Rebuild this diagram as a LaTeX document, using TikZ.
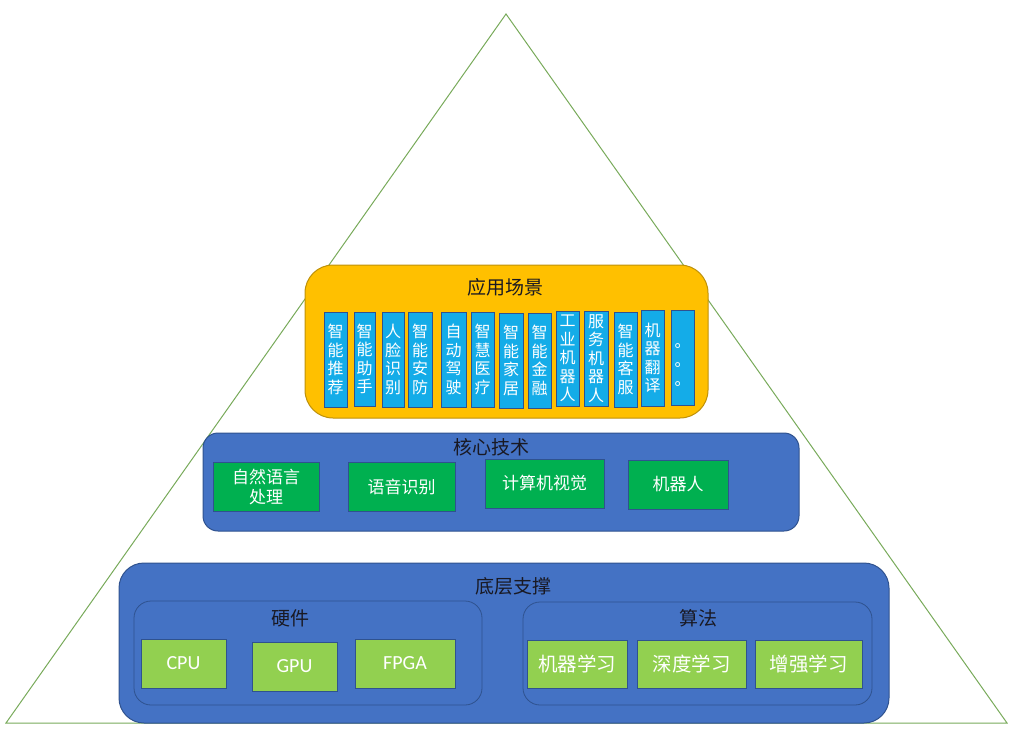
\documentclass[tikz,border=0pt]{standalone}
\usepackage{fontspec}
\setmainfont{Noto Sans CJK SC}
\newfontfamily\latinfont{Carlito}
\definecolor{trigreen}{RGB}{120,170,90}
\definecolor{appfill}{RGB}{255,192,0}
\definecolor{appline}{RGB}{190,145,10}
\definecolor{cyanfill}{RGB}{20,172,232}
\definecolor{blueline}{RGB}{47,82,143}
\definecolor{bluefill}{RGB}{68,114,196}
\definecolor{greenfill}{RGB}{0,176,80}
\definecolor{lgreenfill}{RGB}{146,208,80}
\definecolor{titlecol}{RGB}{25,25,35}
\newcommand\boxat[7]{\node[#1,anchor=north west,minimum width={(#5-#3)*1pt},minimum height={(#6-#4)*1pt}] (#2) at (#3,#4) {#7};}
\tikzset{
  tri/.style={draw=trigreen, line width=1pt, line join=miter},
  appbox/.style={draw=appline, fill=appfill, line width=1pt, rounded corners=28pt, inner sep=0pt, outer sep=0pt},
  corebox/.style={draw=blueline, fill=bluefill, line width=1pt, rounded corners=15pt, inner sep=0pt, outer sep=0pt},
  basebox/.style={draw=blueline, fill=bluefill, line width=1pt, rounded corners=25pt, inner sep=0pt, outer sep=0pt},
  subbox/.style={draw=blueline, fill=bluefill, line width=0.8pt, rounded corners=17pt, inner sep=0pt, outer sep=0pt},
  vbox/.style={draw=blueline, fill=cyanfill, line width=0.8pt, inner sep=0pt, outer sep=0pt, text=white, align=center, font=\fontsize{16}{18.5}\selectfont},
  gbox/.style={draw=blueline, fill=greenfill, line width=0.8pt, inner sep=0pt, outer sep=0pt, text=white, align=center, font=\fontsize{17}{20}\selectfont},
  lgbox/.style={draw=blueline, fill=lgreenfill, line width=0.8pt, inner sep=0pt, outer sep=0pt, text=white, align=center, font=\fontsize{19.5}{22}\selectfont},
  title/.style={text=titlecol, inner sep=0pt, font=\fontsize{19}{22}\selectfont},
}
\begin{document}
\begin{tikzpicture}[x=1pt,y=-1pt]
\useasboundingbox (0,0) rectangle (1016,736);
% pyramid
\coordinate (apex) at (506,14);
\coordinate (bl) at (6,723);
\coordinate (br) at (1007,723);
\draw[tri] (apex) -- (bl) -- (br) -- cycle;
% application layer
\boxat{appbox}{app}{305}{265}{708}{418}{}
\node[title] (apptitle) at (505,287) {应用场景};
\boxat{vbox}{a1}{324}{312}{347}{407}{智\\能\\推\\荐}
\boxat{vbox}{a2}{354}{312}{375}{406}{智\\能\\助\\手}
\boxat{vbox}{a3}{382}{312}{404}{407}{人\\脸\\识\\别}
\boxat{vbox}{a4}{408}{312}{432}{407}{智\\能\\安\\防}
\boxat{vbox}{a5}{441}{312}{466}{407}{自\\动\\驾\\驶}
\boxat{vbox}{a6}{471}{312}{494}{407}{智\\慧\\医\\疗}
\boxat{vbox}{a7}{499}{313}{523}{408}{智\\能\\家\\居}
\boxat{vbox}{a8}{528}{313}{551}{408}{智\\能\\金\\融}
\boxat{vbox}{a9}{556}{311}{579}{406}{工\\业\\机\\器\\人}
\boxat{vbox}{a10}{584}{311}{608}{406}{服\\务\\机\\器\\人}
\boxat{vbox}{a11}{614}{312}{637}{407}{智\\能\\客\\服}
\boxat{vbox}{a12}{641}{310}{664}{406}{机\\器\\翻\\译}
\boxat{vbox}{a13}{671}{310}{694}{405}{}
\node[text=white, inner sep=0pt, align=center, font=\fontsize{16}{19}\selectfont] (dots) at ([xshift=0pt,yshift=-8pt]a13.center) {。\\。\\。};
% core technology layer
\boxat{corebox}{core}{203}{433}{799}{531}{}
\node[title] (coretitle) at (491,447) {核心技术};
\boxat{gbox}{c1}{213}{462}{319}{511}{自然语言\\处理}
\boxat{gbox}{c2}{348}{462}{455}{511}{语音识别}
\boxat{gbox}{c3}{485}{459}{604}{508}{计算机视觉}
\boxat{gbox}{c4}{628}{460}{728}{509}{机器人}
% base support layer
\boxat{basebox}{base}{119}{563}{889}{723}{}
\node[title] (basetitle) at (513,586) {底层支撑};
\boxat{subbox}{hw}{134}{601}{482}{705}{}
\node[title] (hwtitle) at (290,618) {硬件};
\boxat{subbox}{alg}{523}{602}{872}{705}{}
\node[title] (algtitle) at (698,618) {算法};
\boxat{lgbox}{h1}{141}{639}{226}{688}{\latinfont\fontsize{20}{22}\selectfont CPU}
\boxat{lgbox}{h2}{252}{642}{337}{691}{\latinfont\fontsize{20}{22}\selectfont GPU}
\boxat{lgbox}{h3}{355}{639}{455}{688}{\latinfont\fontsize{20}{22}\selectfont FPGA}
\boxat{lgbox}{g1}{527}{640}{627}{688}{机器学习}
\boxat{lgbox}{g2}{637}{640}{746}{688}{深度学习}
\boxat{lgbox}{g3}{755}{640}{862}{688}{增强学习}
\end{tikzpicture}
\end{document}
